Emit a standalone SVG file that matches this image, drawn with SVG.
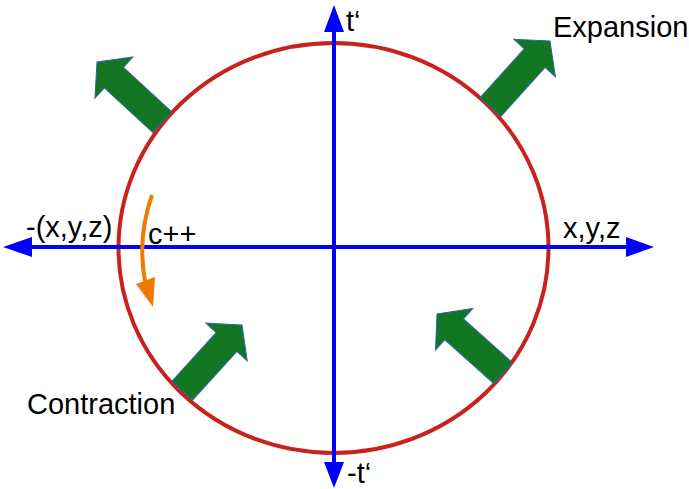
<svg xmlns="http://www.w3.org/2000/svg" width="689" height="489" viewBox="0 0 689 489">
  <defs>
    <style>
      .lbl { font-family: "Liberation Sans", Arial, sans-serif; font-size: 29px; fill: #000; }
      .axis { stroke: #0000ff; stroke-width: 4; fill: none; }
      .axhead { fill: #0000ff; }
      .garrow { fill: #127622; stroke: #3465a4; stroke-width: 1; }
    </style>
    <path id="bigArrow" d="M0,0 L-23,-28 L-23,-14 L-89,-14 L-89,14 L-23,14 L-23,28 Z"/>
  </defs>
  <rect width="689" height="489" fill="#ffffff"/>

  <g id="circle">
    <ellipse cx="333.5" cy="248" rx="215" ry="205" fill="none" stroke="#c9211e" stroke-width="4"/>
  </g>

  <g id="connectors">
    <line class="axis" x1="334" y1="30" x2="334" y2="464"/>
    <polygon class="axhead" points="334,5 324,32 344,32"/>
    <polygon class="axhead" points="334,488 324,462 344,462"/>
    <line class="axis" x1="30" y1="247" x2="628" y2="247"/>
    <polygon class="axhead" points="3,247 32,237 32,257"/>
    <polygon class="axhead" points="654,247 626,237 626,257"/>
    <path d="M152,195 Q137,238 145,281" fill="none" stroke="#ee7a00" stroke-width="4"/>
    <polygon points="136,284 155,277 153,307" fill="#ee7a00"/>
  </g>

  <g id="arrow-top-left">
    <use href="#bigArrow" class="garrow" transform="translate(97,62) rotate(222.7)"/>
  </g>
  <g id="arrow-top-right">
    <use href="#bigArrow" class="garrow" transform="translate(550,41) rotate(-48)"/>
  </g>
  <g id="arrow-bottom-left">
    <use href="#bigArrow" class="garrow" transform="translate(242,325) rotate(-47.7)"/>
  </g>
  <g id="arrow-bottom-right">
    <use href="#bigArrow" class="garrow" transform="translate(437,314) rotate(221.8)"/>
  </g>

  <g id="labels">
    <text class="lbl" x="346" y="31">t‘</text>
    <text class="lbl" x="347" y="483">-t‘</text>
    <text class="lbl" x="553" y="37">Expansion</text>
    <text class="lbl" x="27" y="414">Contraction</text>
    <text class="lbl" x="26" y="237">-(x,y,z)</text>
    <text class="lbl" x="563" y="238">x,y,z</text>
    <text class="lbl" x="148" y="244">c++</text>
  </g>
</svg>
